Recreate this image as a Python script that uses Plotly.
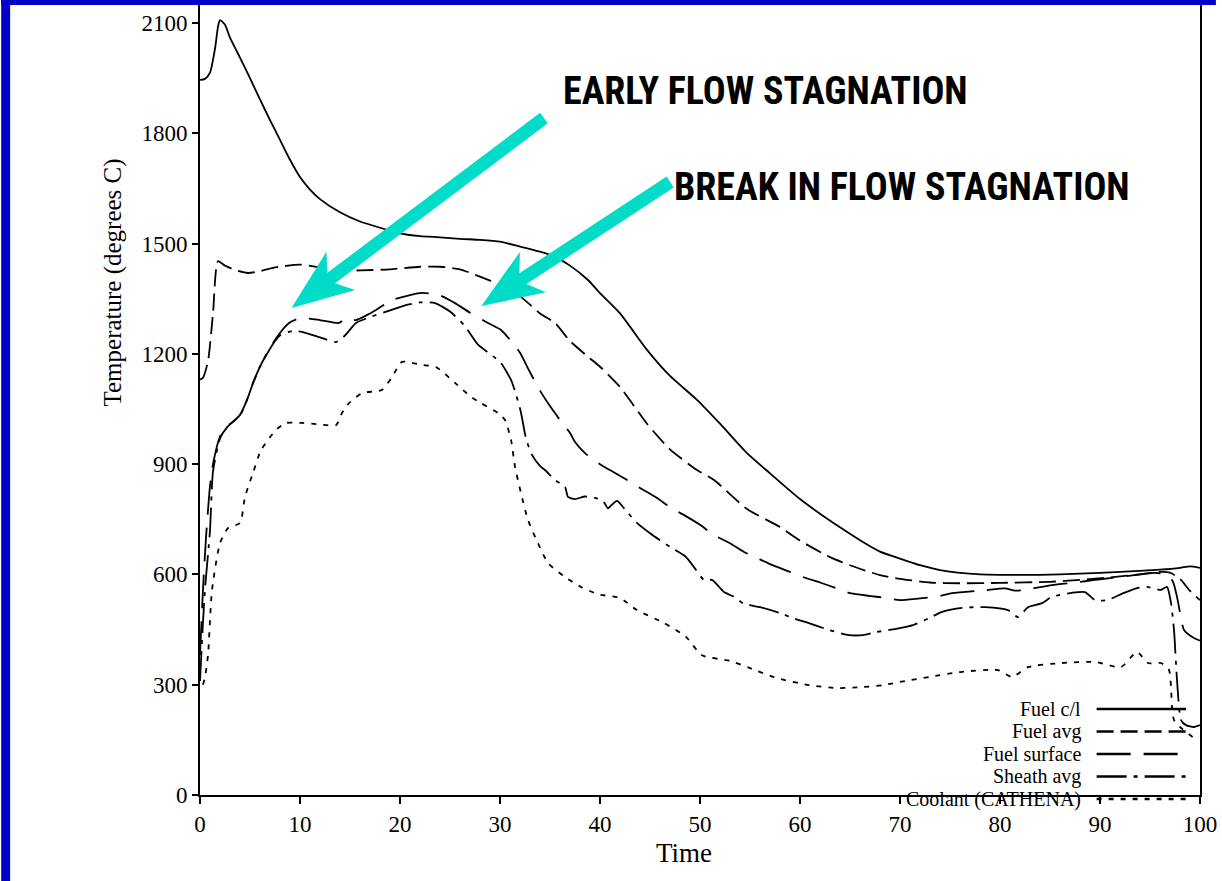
import plotly.graph_objects as go

# ---------------- data ----------------
fuel_cl_t = [0, 0.5, 1, 1.5, 1.8, 2, 2.5, 3, 4, 5, 6, 7, 8, 9, 10, 11, 12, 14, 16, 18, 20, 22, 24, 26,
             28, 30, 32, 34, 35.5, 37, 38.8, 40, 42, 44.7, 47, 49.7, 52, 54.7, 57, 60, 62, 64, 66, 68,
             70, 72, 74, 76, 78, 80, 84, 88, 92, 96, 98, 99, 100]
fuel_cl_T = [1945, 1948, 1965, 2030, 2090, 2108, 2095, 2060, 2006, 1950, 1892, 1836, 1782, 1728, 1681,
             1647, 1621, 1585, 1560, 1543, 1528, 1520, 1517, 1513, 1510, 1505, 1492, 1478, 1464, 1440,
             1401, 1365, 1310, 1211, 1140, 1075, 1010, 930, 875, 805, 765, 728, 693, 662, 643, 625, 612,
             604, 600, 599, 599, 602, 607, 613, 618, 622, 618]

fuel_avg_t = [0, 0.3, 0.8, 1.3, 1.8, 2.5, 3.5, 4.8, 6, 7.3, 10, 12, 13.2, 16, 19, 22, 24, 26, 28, 30, 32,
              34, 35.5, 37, 38.8, 40, 42, 44.7, 47, 49.7, 51.4, 54.7, 58, 60, 63, 65, 68, 70, 73, 76, 80,
              85, 88, 91, 94, 96, 97, 98, 99, 100]
fuel_avg_T = [1130, 1135, 1180, 1310, 1452, 1440, 1428, 1420, 1425, 1434, 1443, 1435, 1427, 1427, 1430,
              1437, 1437, 1430, 1410, 1388, 1357, 1310, 1284, 1235, 1192, 1165, 1110, 1010, 940, 884, 857,
              778, 729, 692, 647, 625, 598, 588, 578, 576, 577, 580, 585, 592, 600, 607, 605, 588, 555, 530]

fuel_surf_t = [0, 0.3, 0.6, 1, 1.3, 2, 2.7, 3.5, 4, 4.7, 5.3, 6, 6.7, 7.7, 8.9, 10, 12, 13.9, 14.6, 15.6,
               17, 19.2, 21, 22.2, 23.9, 25.5, 27, 28.8, 30.1, 31.1, 32, 33, 34, 35, 36, 37, 37.5, 38.5, 40,
               41.5, 42.7, 44, 45.7, 47, 48.5, 50, 51.4, 53, 54.4, 55.7, 57, 59, 60.3, 62, 63.6, 65, 68.6,
               70, 72, 73.6, 75.2, 78.5, 80.5, 81.5, 82.5, 85.2, 87.5, 89.5, 91, 93.4, 95.4, 96.7, 97.3,
               97.7, 97.9, 98.4, 99.4, 100]
fuel_surf_T = [380, 560, 700, 840, 900, 975, 1003, 1020, 1034, 1075, 1121, 1165, 1202, 1246, 1284, 1297,
               1292, 1284, 1297, 1292, 1310, 1346, 1360, 1366, 1360, 1338, 1312, 1284, 1265, 1235, 1203,
               1150, 1100, 1058, 1020, 985, 960, 930, 900, 876, 857, 835, 808, 783, 760, 735, 707, 685,
               661, 645, 628, 607, 593, 578, 563, 549, 536, 530, 535, 539, 549, 557, 562, 556, 558, 571,
               578, 585, 590, 598, 604, 600, 580, 539, 511, 449, 427, 420]

sheath_t = [0, 0.3, 0.5, 1, 1.3, 2, 2.7, 3.5, 4, 4.7, 5.3, 6, 6.7, 7.5, 8, 9.2, 10.2, 12, 13.6, 14.5,
            15.6, 17, 19, 20.5, 22, 23.5, 25, 26.5, 27.8, 29, 30.1, 31.1, 31.6, 32.1, 32.6, 33.2, 34,
            34.5, 35.5, 36.5, 36.8, 37.5, 38.5, 39.5, 40.3, 40.8, 41.2, 41.7, 42.7, 43.7, 45, 47, 48.5,
            49.4, 50.4, 51.2, 52.4, 53.4, 54.4, 56, 58, 59.3, 60.6, 62.9, 64.9, 66.3, 67.6, 69.6, 71.3,
            72.9, 74.2, 76.2, 78.5, 80.8, 81.8, 82.8, 84.2, 85.2, 87.2, 88.5, 89.5, 90.7, 92.4, 93.7,
            94.7, 96.1, 96.7, 97.1, 97.4, 97.7, 98.1, 98.6, 99.4, 100]
sheath_T = [310, 470, 560, 720, 880, 970, 1000, 1020, 1032, 1075, 1120, 1165, 1200, 1235, 1250, 1262,
            1260, 1245, 1232, 1250, 1284, 1300, 1318, 1332, 1340, 1338, 1315, 1275, 1225, 1200, 1175,
            1129, 1090, 1040, 970, 925, 895, 884, 857, 838, 811, 805, 812, 808, 800, 780, 790, 800, 770,
            740, 712, 675, 650, 620, 585, 585, 552, 539, 520, 511, 495, 481, 470, 449, 435, 435, 443,
            452, 462, 481, 498, 509, 511, 503, 484, 511, 522, 539, 550, 552, 530, 530, 550, 563, 566,
            558, 566, 522, 449, 313, 204, 190, 185, 190]

coolant_t = [0.3, 0.5, 0.8, 1.2, 2, 2.8, 4, 4.5, 5.3, 6.1, 7.6, 8.6, 10.3, 12, 13.6, 14.2, 14.9, 16.2,
             18.2, 19.2, 20.2, 22.2, 23.6, 25.5, 27.1, 28.1, 29.8, 30.5, 31.1, 31.5, 32.1, 32.8, 33.8,
             34.8, 36.5, 38.1, 39.8, 42, 43.7, 46.4, 48.6, 50.2, 53, 55, 57.7, 60.9, 63.6, 66, 68.3,
             70.5, 72.9, 76.2, 79.8, 81.2, 82.8, 86.2, 89.5, 92.1, 93.7, 94.8, 96.1, 96.9, 97.1, 97.2,
             97.4, 98, 99.4]
coolant_T = [300, 320, 380, 557, 685, 726, 740, 811, 876, 938, 993, 1012, 1012, 1008, 1006, 1039, 1066,
             1093, 1102, 1137, 1178, 1170, 1164, 1121, 1083, 1066, 1039, 1020, 966, 893, 821, 748, 685,
             631, 593, 566, 546, 536, 503, 468, 430, 380, 365, 345, 318, 299, 291, 293, 299, 310, 321,
             335, 340, 321, 348, 359, 362, 348, 389, 359, 359, 340, 294, 239, 204, 185, 155]

series_names = ["Fuel c/l", "Fuel avg", "Fuel surface", "Sheath avg", "Coolant (CATHENA)"]
y_ticks = [0, 300, 600, 900, 1200, 1500, 1800, 2100]
x_ticks = [0, 10, 20, 30, 40, 50, 60, 70, 80, 90, 100]

# ---------------- layout geometry ----------------
W, H = 1222, 881
L_PX, R_PX, T_PX, B_PX = 200, 1206, 5, 795
Y_MAX = 2100 * (B_PX - T_PX) / (B_PX - 23)

def px_x(px):
    return (px - L_PX) / (R_PX - L_PX) * 100.0

def px_y(py):
    return (B_PX - py) / (B_PX - T_PX) * Y_MAX

def paper_x(px):
    return (px - L_PX) / (R_PX - L_PX)

def paper_y(py):
    return (B_PX - py) / (B_PX - T_PX)

SERIF = "Liberation Serif, Times New Roman, serif"
NARROW = "Roboto Condensed, Liberation Sans Narrow, Roboto, sans-serif"
CYAN = "#00DCC8"
BLUE = "#0000C8"

styles = [
    dict(dash="solid"),
    dict(dash="17px,7px"),
    dict(dash="34px,13px"),
    dict(dash="30px,7px,4px,7px"),
    dict(dash="5px,7px"),
]
data = [(fuel_cl_t, fuel_cl_T), (fuel_avg_t, fuel_avg_T), (fuel_surf_t, fuel_surf_T),
        (sheath_t, sheath_T), (coolant_t, coolant_T)]

fig = go.Figure()
for name, (t, T), st in zip(series_names, data, styles):
    fig.add_trace(go.Scatter(x=t, y=T, mode="lines", name=name, showlegend=False,
                             line=dict(color="black", width=1.8, dash=st["dash"], shape="spline",
                                       smoothing=0.6)))

shapes = []
annotations = []

# manual legend (text left of line sample, as in the original)
leg_rows = [709, 731.5, 754, 776.5, 799]
for name, st, py in zip(series_names, styles, leg_rows):
    annotations.append(dict(xref="paper", yref="paper", x=paper_x(1087), y=paper_y(py),
                            xanchor="right", yanchor="middle", text=name, showarrow=False,
                            borderpad=0,
                            font=dict(family=SERIF, size=20, color="black")))
    shapes.append(dict(type="line", xref="paper", yref="paper",
                       x0=paper_x(1102), x1=paper_x(1192), y0=paper_y(py), y1=paper_y(py),
                       line=dict(color="black", width=2.4, dash=st["dash"])))

# axis titles
annotations.append(dict(xref="paper", yref="paper", x=paper_x(112), y=paper_y(283),
                        text="Temperature (degrees C)", textangle=-90, showarrow=False,
                        xanchor="center", yanchor="middle",
                        font=dict(family=SERIF, size=25, color="black")))
annotations.append(dict(xref="paper", yref="paper", x=paper_x(687), y=paper_y(853),
                        text="Time", showarrow=False, xanchor="center", yanchor="middle",
                        font=dict(family=SERIF, size=27, color="black")))

# callout texts
annotations.append(dict(xref="paper", yref="paper", x=paper_x(563), y=paper_y(91),
                        text="<b>EARLY FLOW STAGNATION</b>", showarrow=False,
                        xanchor="left", yanchor="middle",
                        font=dict(family=NARROW, size=38, color="black")))
annotations.append(dict(xref="paper", yref="paper", x=paper_x(675), y=paper_y(187),
                        text="<b>BREAK IN FLOW STAGNATION</b>", showarrow=False,
                        xanchor="left", yanchor="middle",
                        font=dict(family=NARROW, size=38, color="black")))

# cyan arrows as filled paths
def arrow_path(tail, tip, w=6.5, head_len=62, head_w=24, neck=50):
    import math
    dx, dy = tip[0] - tail[0], tip[1] - tail[1]
    ln = math.hypot(dx, dy)
    ux, uy = dx / ln, dy / ln
    nx, ny = -uy, ux
    def P(x, y):
        return f"{px_x(x):.4f},{px_y(y):.4f}"
    bx, by = tip[0] - neck * ux, tip[1] - neck * uy
    hx, hy = tip[0] - head_len * ux, tip[1] - head_len * uy
    pts = [
        (tail[0] + w * nx, tail[1] + w * ny),
        (bx + w * nx, by + w * ny),
        (hx + head_w * nx, hy + head_w * ny),
        tip,
        (hx - head_w * nx, hy - head_w * ny),
        (bx - w * nx, by - w * ny),
        (tail[0] - w * nx, tail[1] - w * ny),
    ]
    return "M " + " L ".join(P(*p) for p in pts) + " Z"

for tail, tip in [((546, 118), (292, 308)), ((673, 182), (483, 306))]:
    shapes.append(dict(type="path", xref="x", yref="y", path=arrow_path(tail, tip),
                       fillcolor=CYAN, line=dict(width=0), layer="above"))

# blue frame (left and top)
shapes.append(dict(type="rect", xref="paper", yref="paper", x0=paper_x(0), x1=paper_x(9),
                   y0=paper_y(H), y1=paper_y(0), fillcolor=BLUE, line=dict(width=0), layer="above"))
shapes.append(dict(type="rect", xref="paper", yref="paper", x0=paper_x(0), x1=paper_x(W),
                   y0=paper_y(5), y1=paper_y(0), fillcolor=BLUE, line=dict(width=0), layer="above"))

fig.update_layout(
    width=W, height=H,
    margin=dict(l=L_PX, r=W - R_PX, t=T_PX, b=H - B_PX, pad=0),
    paper_bgcolor="white", plot_bgcolor="white",
    shapes=shapes, annotations=annotations,
    xaxis=dict(range=[0, 100], tickvals=x_ticks, ticks="outside", ticklen=7, tickwidth=1.5,
               tickcolor="black", showline=True, linecolor="black", linewidth=2,
               showgrid=False, zeroline=False, ticklabeloverflow="allow",
               tickfont=dict(family=SERIF, size=23, color="black")),
    yaxis=dict(range=[0, Y_MAX], tickvals=y_ticks, ticks="outside", ticklen=6, tickwidth=1.5,
               tickcolor="black", showline=True, linecolor="black", linewidth=2, mirror=True,
               showgrid=False, zeroline=False,
               tickfont=dict(family=SERIF, size=23, color="black")),
)

fig.write_html("out.html", config={"displayModeBar": False},
               post_script="document.body.style.margin='0px';")
